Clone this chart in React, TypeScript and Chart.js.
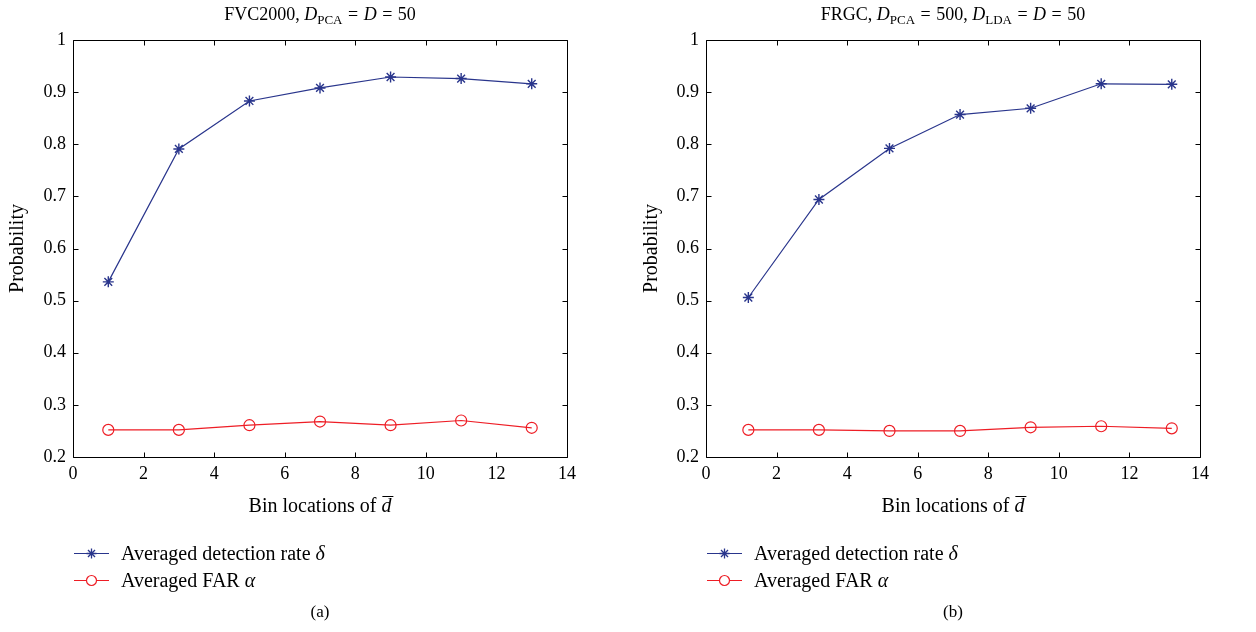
import React, { useEffect, useRef } from 'react';
import { Chart, registerables } from 'chart.js';

Chart.register(...registerables);

const FONT = '"Liberation Serif", "Times New Roman", serif';
const BLUE = '#29358c';
const RED = '#ee1d25';

// ---- data ----
const binsA = [1, 3, 5, 7, 9, 11, 13];
const detectionA = [0.536, 0.791, 0.883, 0.908, 0.929, 0.926, 0.916];
const farA = [0.252, 0.252, 0.261, 0.268, 0.261, 0.27, 0.256];

const binsB = [1.2, 3.2, 5.2, 7.2, 9.2, 11.2, 13.2];
const detectionB = [0.506, 0.694, 0.792, 0.857, 0.869, 0.916, 0.915];
const farB = [0.252, 0.252, 0.25, 0.25, 0.257, 0.259, 0.255];

type Seg = { t: string; i?: boolean; sub?: boolean; over?: boolean; pad?: number };

const EQ_PAD = 5.5;
const titleA: Seg[] = [
  { t: 'FVC2000, ' },
  { t: 'D', i: true },
  { t: 'PCA', sub: true },
  { t: '=', pad: EQ_PAD },
  { t: 'D', i: true },
  { t: '=', pad: EQ_PAD },
  { t: '50' },
];
const titleB: Seg[] = [
  { t: 'FRGC, ' },
  { t: 'D', i: true },
  { t: 'PCA', sub: true },
  { t: '=', pad: EQ_PAD },
  { t: '500, ' },
  { t: 'D', i: true },
  { t: 'LDA', sub: true },
  { t: '=', pad: EQ_PAD },
  { t: 'D', i: true },
  { t: '=', pad: EQ_PAD },
  { t: '50' },
];
const xTitle: Seg[] = [{ t: 'Bin locations of ' }, { t: 'd', i: true, over: true }];
const yTitle = 'Probability';
const legendDet: Seg[] = [{ t: 'Averaged detection rate ' }, { t: 'δ', i: true }];
const legendFar: Seg[] = [{ t: 'Averaged FAR ' }, { t: 'α', i: true }];

function drawRich(
  ctx: CanvasRenderingContext2D,
  segs: Seg[],
  x: number,
  y: number,
  size: number,
  align: 'center' | 'left'
) {
  const fontFor = (s: Seg) =>
    `${s.i ? 'italic ' : ''}${s.sub ? Math.round(size * 0.72) : size}px ${FONT}`;
  let total = 0;
  for (const s of segs) {
    ctx.font = fontFor(s);
    total += ctx.measureText(s.t).width + 2 * (s.pad || 0);
  }
  let cx = align === 'center' ? x - total / 2 : x;
  ctx.textAlign = 'left';
  ctx.textBaseline = 'alphabetic';
  for (const s of segs) {
    ctx.font = fontFor(s);
    const w = ctx.measureText(s.t).width;
    cx += s.pad || 0;
    const yy = s.sub ? y + size * 0.22 : y;
    ctx.fillText(s.t, cx, yy);
    if (s.over) {
      ctx.save();
      ctx.strokeStyle = '#000';
      ctx.lineWidth = 1;
      ctx.beginPath();
      const oy = Math.round(y - size * 0.8) + 0.5;
      ctx.moveTo(cx + 1, oy);
      ctx.lineTo(cx + w + 2, oy);
      ctx.stroke();
      ctx.restore();
    }
    cx += w + (s.pad || 0);
  }
}

function drawStar(ctx: CanvasRenderingContext2D, x: number, y: number, r: number, color: string) {
  ctx.save();
  ctx.strokeStyle = color;
  ctx.lineWidth = 1.3;
  ctx.beginPath();
  for (let k = 0; k < 4; k++) {
    const a = (k * Math.PI) / 4;
    ctx.moveTo(x - r * Math.cos(a), y - r * Math.sin(a));
    ctx.lineTo(x + r * Math.cos(a), y + r * Math.sin(a));
  }
  ctx.stroke();
  ctx.restore();
}

function drawCircle(ctx: CanvasRenderingContext2D, x: number, y: number, r: number, color: string) {
  ctx.save();
  ctx.strokeStyle = color;
  ctx.fillStyle = '#fff';
  ctx.lineWidth = 1.2;
  ctx.beginPath();
  ctx.arc(x, y, r, 0, Math.PI * 2);
  ctx.fill();
  ctx.stroke();
  ctx.restore();
}

const framePlugin = {
  id: 'matlabFrame',
  beforeDatasetsDraw(chart: any) {
    const { ctx, chartArea } = chart;
    const { left, right, top, bottom } = chartArea;
    const xs = chart.scales.x;
    const ys = chart.scales.y;
    ctx.save();
    ctx.strokeStyle = '#000';
    ctx.lineWidth = 1;
    const L = Math.round(left) + 0.5;
    const R = Math.round(right) + 0.5;
    const T = Math.round(top) + 0.5;
    const B = Math.round(bottom) + 0.5;
    ctx.beginPath();
    ctx.rect(L, T, R - L, B - T);
    const tl = 5;
    xs.ticks.forEach((t: any) => {
      const px = Math.round(xs.getPixelForValue(t.value)) + 0.5;
      ctx.moveTo(px, B);
      ctx.lineTo(px, B - tl);
      ctx.moveTo(px, T);
      ctx.lineTo(px, T + tl);
    });
    ys.ticks.forEach((t: any) => {
      const py = Math.round(ys.getPixelForValue(t.value)) + 0.5;
      ctx.moveTo(L, py);
      ctx.lineTo(L + tl, py);
      ctx.moveTo(R, py);
      ctx.lineTo(R - tl, py);
    });
    ctx.stroke();
    ctx.restore();
  },
};

const textPlugin = {
  id: 'richText',
  afterDraw(chart: any, _args: any, opts: any) {
    const { ctx, chartArea } = chart;
    const { left, right } = chartArea;
    const cx = (left + right) / 2;
    ctx.save();
    ctx.fillStyle = '#000';
    // title
    drawRich(ctx, opts.title, cx, 20, 18, 'center');
    // x title
    drawRich(ctx, xTitle, cx, 512, 20, 'center');
    // y title
    ctx.save();
    ctx.translate(opts.yTitleX, (chartArea.top + chartArea.bottom) / 2);
    ctx.rotate(-Math.PI / 2);
    ctx.font = `20px ${FONT}`;
    ctx.textAlign = 'center';
    ctx.textBaseline = 'middle';
    ctx.fillText(yTitle, 0, 0);
    ctx.restore();
    // legend
    const ds = chart.data.datasets;
    const lx0 = left + 1;
    const lx1 = left + 36;
    const rows = [
      { y: 553, segs: legendDet, color: ds[0].borderColor, star: true },
      { y: 580, segs: legendFar, color: ds[1].borderColor, star: false },
    ];
    rows.forEach((r) => {
      ctx.save();
      ctx.strokeStyle = r.color;
      ctx.lineWidth = 1.2;
      ctx.beginPath();
      ctx.moveTo(lx0, r.y + 0.5);
      ctx.lineTo(lx1, r.y + 0.5);
      ctx.stroke();
      ctx.restore();
      if (r.star) drawStar(ctx, (lx0 + lx1) / 2, r.y + 0.5, 5, r.color);
      else drawCircle(ctx, (lx0 + lx1) / 2, r.y + 0.5, 5, r.color);
      ctx.fillStyle = '#000';
      drawRich(ctx, r.segs, left + 48, r.y + 7, 20, 'left');
    });
    // caption
    ctx.font = `17px ${FONT}`;
    ctx.textAlign = 'center';
    ctx.textBaseline = 'middle';
    ctx.fillText(opts.caption, cx, 613);
    ctx.restore();
  },
};

function PlotPanel(props: {
  bins: number[];
  det: number[];
  far: number[];
  title: Seg[];
  caption: string;
  axisWidth: number;
  padRight: number;
  yTitleX: number;
}) {
  const ref = useRef<HTMLCanvasElement | null>(null);
  useEffect(() => {
    if (!ref.current) return;
    const chart = new Chart(ref.current, {
      type: 'line',
      data: {
        datasets: [
          {
            label: 'Averaged detection rate δ',
            data: props.bins.map((b, i) => ({ x: b, y: props.det[i] })),
            borderColor: BLUE,
            backgroundColor: BLUE,
            borderWidth: 1.2,
            pointStyle: 'star',
            pointRadius: 5.5,
            pointBorderWidth: 1.4,
            pointBorderColor: BLUE,
            tension: 0,
          },
          {
            label: 'Averaged FAR α',
            data: props.bins.map((b, i) => ({ x: b, y: props.far[i] })),
            borderColor: RED,
            backgroundColor: 'rgba(255,255,255,0)',
            borderWidth: 1.2,
            pointStyle: 'circle',
            pointRadius: 5.5,
            pointBorderWidth: 1.2,
            pointBorderColor: RED,
            pointBackgroundColor: 'rgba(255,255,255,0)',
            tension: 0,
          },
        ],
      },
      options: {
        animation: false,
        responsive: true,
        maintainAspectRatio: false,
        events: [],
        layout: { padding: { top: 40, right: props.padRight, bottom: 115, left: 0 } },
        plugins: {
          legend: { display: false },
          tooltip: { enabled: false },
          title: { display: false },
          richText: { title: props.title, caption: props.caption, yTitleX: props.yTitleX },
        } as any,
        scales: {
          x: {
            type: 'linear',
            min: 0,
            max: 14,
            grid: { display: false, drawTicks: false },
            border: { display: false },
            ticks: {
              stepSize: 2,
              padding: 6,
              color: '#000',
              font: { family: FONT, size: 18 },
              maxRotation: 0,
            },
            afterFit: (s: any) => {
              s.height = 60;
            },
          },
          y: {
            type: 'linear',
            min: 0.2,
            max: 1,
            grid: { display: false, drawTicks: false },
            border: { display: false },
            ticks: {
              stepSize: 0.1,
              padding: 7,
              color: '#000',
              font: { family: FONT, size: 18 },
              callback: (v: any) => {
                const r = Math.round(Number(v) * 10) / 10;
                return r === 1 ? '1' : r.toFixed(1);
              },
            },
            afterFit: (s: any) => {
              s.width = props.axisWidth;
            },
          },
        },
      },
      plugins: [framePlugin, textPlugin],
    });
    return () => chart.destroy();
  }, []);
  return (
    <div style={{ position: 'relative', width: 628, height: 632 }}>
      <canvas ref={ref} />
    </div>
  );
}

export default function App() {
  return (
    <div
      style={{
        position: 'absolute',
        left: 0,
        top: 0,
        width: 1256,
        height: 632,
        display: 'flex',
        background: '#fff',
      }}
    >
      <PlotPanel
        bins={binsA}
        det={detectionA}
        far={farA}
        title={titleA}
        caption="(a)"
        axisWidth={73}
        padRight={61}
        yTitleX={18}
      />
      <PlotPanel
        bins={binsB}
        det={detectionB}
        far={farB}
        title={titleB}
        caption="(b)"
        axisWidth={78}
        padRight={56}
        yTitleX={24}
      />
    </div>
  );
}
